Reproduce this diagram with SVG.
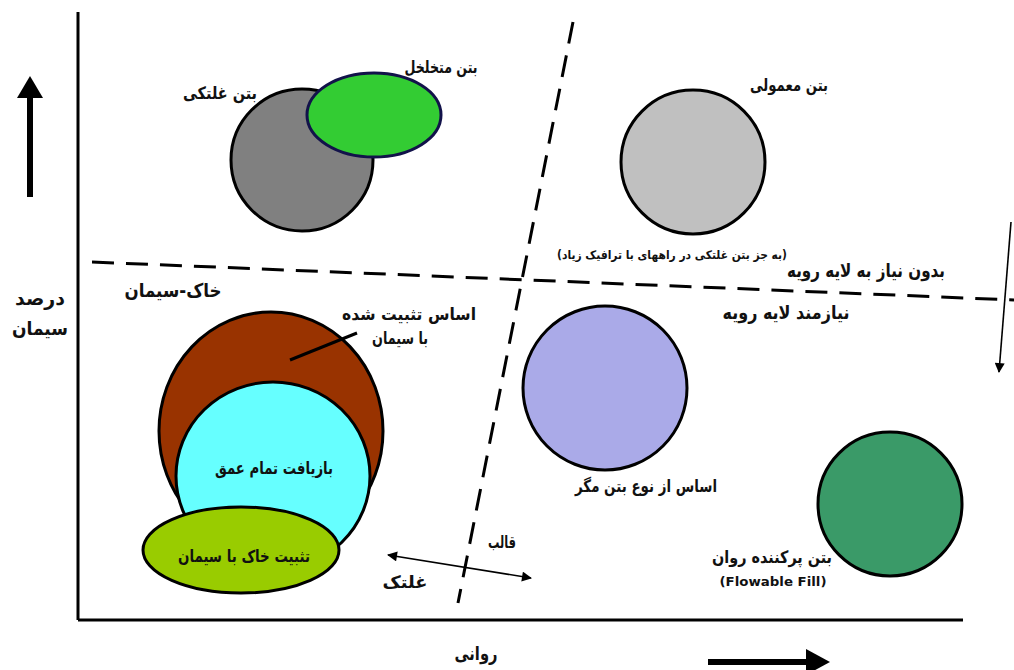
<svg xmlns="http://www.w3.org/2000/svg" width="1014" height="670" viewBox="0 0 1014 670">
<style>
.t{font-family:"DejaVu Sans","Noto Sans",sans-serif;font-weight:bold;fill:#111;text-anchor:middle;font-size:17px}
.big{font-size:19px}
.sm{font-size:12px}
.shape{stroke:#000;stroke-width:3}
.axis{stroke:#000;stroke-width:3;fill:none}
.dash{stroke:#000;stroke-width:3;stroke-dasharray:22 12;fill:none}
.thin{stroke:#000;stroke-width:1.6;fill:none}
</style>
<defs>
<marker id="ahs" viewBox="0 0 10 10" refX="9" refY="5" markerWidth="12" markerHeight="10" orient="auto-start-reverse" markerUnits="userSpaceOnUse">
<path d="M0,0 L10,5 L0,10 Z" fill="#000"/>
</marker>
</defs>
<rect width="1014" height="670" fill="#fff"/>
<g id="connectors">
<line class="axis" x1="78" y1="12" x2="78" y2="620"/>
<line class="axis" x1="78" y1="620" x2="963" y2="620"/>
<line x1="30" y1="197" x2="30" y2="95" stroke="#000" stroke-width="6"/>
<path d="M17,98 L30,76 L43,98 Z" fill="#000"/>
<line x1="708" y1="662" x2="810" y2="662" stroke="#000" stroke-width="6"/>
<path d="M806,649 L830,662 L806,675 Z" fill="#000"/>
<line class="dash" x1="92" y1="262" x2="1014" y2="300"/>
<line class="dash" x1="573" y1="22" x2="458" y2="603"/>
<line class="thin" x1="1011" y1="222" x2="999" y2="372" marker-end="url(#ahs)"/>
<line class="thin" x1="388" y1="555" x2="531" y2="578" marker-start="url(#ahs)" marker-end="url(#ahs)"/>
</g>
<g id="roller">
<circle class="shape" cx="302" cy="160" r="71" fill="#808080"/>
<text class="t" x="220" y="99" textLength="74" lengthAdjust="spacingAndGlyphs">بتن غلتکی</text>
</g>
<g id="porous">
<ellipse cx="374" cy="115" rx="67" ry="42" fill="#33cc33" stroke="#12124a" stroke-width="3"/>
<text class="t" x="441" y="73" textLength="73" lengthAdjust="spacingAndGlyphs">بتن متخلخل</text>
</g>
<g id="normal">
<circle class="shape" cx="693" cy="162" r="72" fill="#c0c0c0"/>
<text class="t" x="789" y="91" textLength="78" lengthAdjust="spacingAndGlyphs">بتن معمولی</text>
</g>
<g id="noLayer">
<text class="t big" x="866" y="277" textLength="158" lengthAdjust="spacingAndGlyphs">بدون نیاز به لایه رویه</text>
<text class="t sm" x="672" y="259" textLength="230" lengthAdjust="spacingAndGlyphs">(به جز بتن غلتکی در راههای با ترافیک زیاد)</text>
</g>
<g id="needLayer">
<text class="t big" x="786" y="319" textLength="127" lengthAdjust="spacingAndGlyphs">نیازمند لایه رویه</text>
</g>
<g id="soilCement">
<text class="t big" x="173" y="297" textLength="97" lengthAdjust="spacingAndGlyphs">خاک-سیمان</text>
</g>
<g id="cementBase">
<ellipse class="shape" cx="271" cy="431" rx="112" ry="119" fill="#993300"/>
<line x1="290" y1="360" x2="357" y2="333" stroke="#000" stroke-width="3"/>
<text class="t" x="409" y="320" textLength="134" lengthAdjust="spacingAndGlyphs">اساس تثبیت شده</text>
<text class="t" x="400" y="344" textLength="56" lengthAdjust="spacingAndGlyphs">با سیمان</text>
</g>
<g id="fdr">
<ellipse class="shape" cx="273" cy="476" rx="97" ry="94" fill="#66ffff"/>
<text class="t" x="274" y="474" textLength="118" lengthAdjust="spacingAndGlyphs">بازیافت تمام عمق</text>
</g>
<g id="soilStab">
<ellipse class="shape" cx="241" cy="550" rx="98" ry="43" fill="#99cc00"/>
<text class="t" x="244" y="562" textLength="132" lengthAdjust="spacingAndGlyphs">تثبیت خاک با سیمان</text>
</g>
<g id="leanBase">
<circle class="shape" cx="605" cy="388" r="82" fill="#aaaae8"/>
<text class="t" x="646" y="492" textLength="142" lengthAdjust="spacingAndGlyphs">اساس از نوع بتن مگر</text>
</g>
<g id="flowable">
<circle class="shape" cx="890" cy="504" r="72" fill="#3a9a68"/>
<text class="t" x="772" y="563" textLength="120" lengthAdjust="spacingAndGlyphs">بتن پرکننده  روان</text>
<text class="t" x="773" y="586" style="font-size:13px" textLength="107" lengthAdjust="spacingAndGlyphs">(Flowable Fill)</text>
</g>
<g id="labels">
<text class="t" x="502" y="548" textLength="28" lengthAdjust="spacingAndGlyphs">قالب</text>
<text class="t" x="405" y="588" textLength="45" lengthAdjust="spacingAndGlyphs">غلتک</text>
<text class="t big" x="476" y="660" textLength="43" lengthAdjust="spacingAndGlyphs">روانی</text>
<text class="t big" x="40" y="305" textLength="50" lengthAdjust="spacingAndGlyphs">درصد</text>
<text class="t big" x="40" y="335" textLength="56" lengthAdjust="spacingAndGlyphs">سیمان</text>
</g>
</svg>
